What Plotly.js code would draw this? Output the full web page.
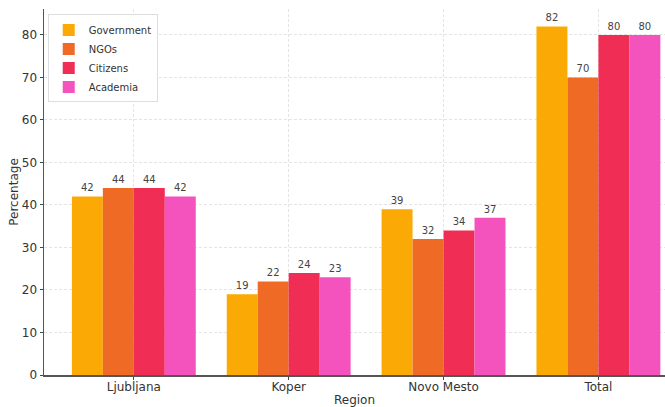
<!DOCTYPE html>
<html><head><meta charset="utf-8">
<script src="https://cdn.plot.ly/plotly-3.0.1.min.js"></script>
<style>html,body{margin:0;padding:0;background:#fff}#c{width:665px;height:407px}</style>
</head><body><div id="c"></div>
<script>
const regions = ["Ljubljana", "Koper", "Novo Mesto", "Total"];
const government = [42, 19, 39, 82];
const ngos = [44, 22, 32, 70];
const citizens = [44, 24, 34, 80];
const academia = [42, 23, 37, 80];
const seriesNames = ["Government", "NGOs", "Citizens", "Academia"];
const colors = ["#FBAA05", "#EE6A25", "#F02D55", "#F453BE"];
const yTicks = [0, 10, 20, 30, 40, 50, 60, 70, 80];

const data = [government, ngos, citizens, academia].map((vals, i) => ({
  type: "bar",
  name: seriesNames[i],
  x: [0, 1, 2, 3],
  y: vals,
  text: vals.map(String),
  textposition: "outside",
  cliponaxis: false,
  textfont: {family: "DejaVu Sans", size: 10, color: "#444"},
  marker: {color: colors[i], line: {width: 0}},
  hoverinfo: "none"
}));

const layout = {
  width: 665, height: 407,
  margin: {l: 44, r: 0, t: 9, b: 32},
  paper_bgcolor: "#fff", plot_bgcolor: "#fff",
  font: {family: "DejaVu Sans", color: "#333", size: 12},
  barmode: "group",
  bargap: 0.2, bargroupgap: 0,
  showlegend: true,
  legend: {x: 0.006, y: 0.985, xanchor: "left", yanchor: "top",
    bgcolor: "rgba(255,255,255,0.9)", bordercolor: "#ddd", borderwidth: 1,
    font: {size: 10, color: "#333"}, tracegroupgap: 0, itemwidth: 30},
  xaxis: {
    range: [-0.58, 3.43],
    tickmode: "array", tickvals: [0, 1, 2, 3], ticktext: regions,
    ticks: "outside", ticklen: 3, tickcolor: "#444", ticklabelstandoff: -3,
    showline: true, linecolor: "#555", linewidth: 1.5,
    showgrid: true, gridcolor: "#e4e4e4", griddash: "3px,2px", gridwidth: 1,
    zeroline: false,
    tickfont: {size: 12, color: "#333"},
    title: {text: "Region", font: {size: 12, color: "#333"}, standoff: 4}
  },
  yaxis: {
    range: [0, 86.1],
    tickmode: "array", tickvals: yTicks,
    ticks: "outside", ticklen: 3, tickcolor: "#444",
    showline: true, linecolor: "#555", linewidth: 1.5,
    showgrid: true, gridcolor: "#e4e4e4", griddash: "3px,2px", gridwidth: 1,
    zeroline: false,
    tickfont: {size: 12, color: "#333"},
    title: {text: "Percentage", font: {size: 12, color: "#333"}, standoff: 0}
  }
};
Plotly.newPlot("c", data, layout, {staticPlot: true});
</script></body></html>
